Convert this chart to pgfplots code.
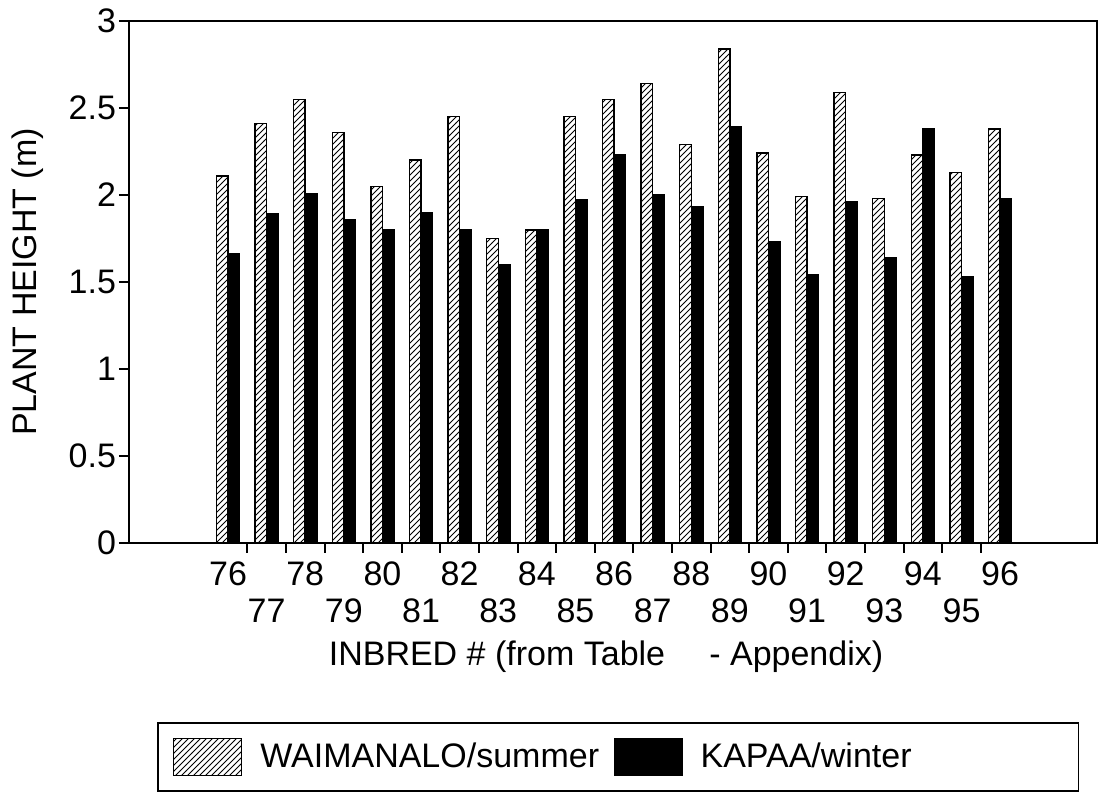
\documentclass[border=0pt]{standalone}
\usepackage{fontspec}
\setmainfont{Liberation Sans}
\usepackage{pgfplots}
\pgfplotsset{compat=1.18}
\usetikzlibrary{patterns}

\pgfplotsset{
  legA/.style={legend image code/.code={\draw[##1] (0pt,-9.25pt) rectangle (34pt,9.25pt);}},
  legB/.style={legend image code/.code={\draw[##1] (0pt,-9.25pt) rectangle (33.5pt,9.25pt);}},
}

\pgfplotstableread{
idx H B
0 2.11 1.66
1 2.41 1.89
2 2.55 2.01
3 2.36 1.86
4 2.05 1.80
5 2.20 1.90
6 2.45 1.80
7 1.75 1.60
8 1.80 1.80
9 2.45 1.97
10 2.55 2.23
11 2.64 2.00
12 2.29 1.93
13 2.84 2.39
14 2.24 1.73
15 1.99 1.54
16 2.59 1.96
17 1.98 1.64
18 2.23 2.38
19 2.13 1.53
20 2.38 1.98
}\datatable

\begin{document}
\begin{tikzpicture}
\useasboundingbox (-64.5pt,-126pt) rectangle (486pt,271.5pt);
\begin{axis}[
  name=ax, at={(0,0)}, anchor=south west,
  scale only axis, width=484pt, height=261pt,
  ybar=0pt, bar width=0.3,
  xmin=-2.565, xmax=22.51, ymin=0, ymax=3,
  ytick={0,0.5,1,1.5,2,2.5,3},
  yticklabels={0,0.5,1,1.5,2,2.5,3},
  xtick={0,2,4,6,8,10,12,14,16,18,20},
  xticklabels={76,78,80,82,84,86,88,90,92,94,96},
  minor xtick={0.5,1.5,...,19.5},
  extra x ticks={1,3,5,7,9,11,13,15,17,19},
  extra x tick labels={77,79,81,83,85,87,89,91,93,95},
  extra x tick style={xticklabel style={yshift=-18.5pt}},
  major x tick style={draw=none},
  xtick pos=bottom, ytick pos=left,
  tick align=outside, major tick length=5pt, minor tick length=5pt,
  axis line style={line width=1pt},
  every tick/.style={line width=1pt, black},
  tick label style={font=\fontsize{17}{20}\selectfont},
  xticklabel style={yshift=-1pt},
  yticklabel style={xshift=2pt},
  label style={font=\fontsize{17}{20}\selectfont},
  xlabel={INBRED \# (from Table\hspace{1.3em}- Appendix)},
  xlabel style={at={(axis description cs:0.4928,-0.2184)}, anchor=center},
  ylabel={PLANT HEIGHT (m)},
  ylabel style={at={(axis description cs:-0.1045,0.5)}, anchor=center},
  legend columns=2,
  legend style={at={(0.02893,-0.3429)}, anchor=north west, draw=black, line width=0.8pt,
    inner xsep=7.5pt, inner ysep=7.5pt, font=\fontsize{17}{20}\selectfont,
    nodes={inner sep=0pt},
    /tikz/every odd column/.append style={column sep=9pt},
    /tikz/every even column/.append style={column sep=7.5pt}},
  clip=false,
]
\addplot[draw=black, line width=0.75pt, fill=white, postaction={pattern=north east lines}, legA]
  table[x=idx, y=H] {\datatable};
\addlegendentry{WAIMANALO/summer}
\addplot[draw=black, line width=0.75pt, fill=black, legB]
  table[x=idx, y=B] {\datatable};
\addlegendentry{\makebox[181.5pt][l]{KAPAA/winter}}
\end{axis}
\end{tikzpicture}
\end{document}
